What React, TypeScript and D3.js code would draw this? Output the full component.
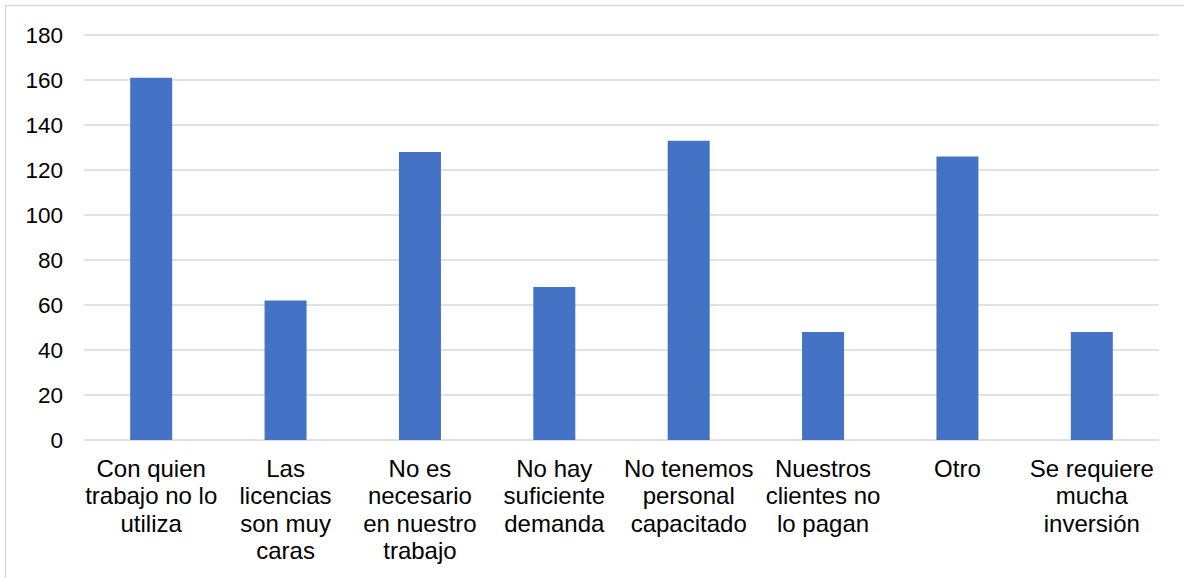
import React from "react";
import * as d3 from "d3";

const categories = [
  "Con quien trabajo no lo utiliza",
  "Las licencias son muy caras",
  "No es necesario en nuestro trabajo",
  "No hay suficiente demanda",
  "No tenemos personal capacitado",
  "Nuestros clientes no lo pagan",
  "Otro",
  "Se requiere mucha inversión",
];
const labelLines = [
  ["Con quien", "trabajo no lo", "utiliza"],
  ["Las", "licencias", "son muy", "caras"],
  ["No es", "necesario", "en nuestro", "trabajo"],
  ["No hay", "suficiente", "demanda"],
  ["No tenemos", "personal", "capacitado"],
  ["Nuestros", "clientes no", "lo pagan"],
  ["Otro"],
  ["Se requiere", "mucha", "inversión"],
];
const values = [161, 62, 128, 68, 133, 48, 126, 48];
const yTicks = [0, 20, 40, 60, 80, 100, 120, 140, 160, 180];

const W = 1184;
const H = 578;
const left = 84;
const right = 1159;
const top = 35;
const bottom = 440;
const font = "'Liberation Sans', Arial, sans-serif";

export default function App() {
  const x = d3.scaleBand<string>().domain(categories).range([left, right]);
  const y = d3.scaleLinear().domain([0, 180]).range([bottom, top]);
  const band = x.bandwidth();
  const bw = band / 3.2;

  return (
    <svg width={W} height={H} style={{ position: "absolute", left: 0, top: 0, background: "#fff" }}>
      <rect x={5.5} y={5.5} width={W + 10} height={H + 10} fill="#fff" stroke="#d9d9d9" strokeWidth={1.5} />
      {yTicks.map((t) => (
        <g key={t}>
          <line x1={left} x2={right} y1={y(t)} y2={y(t)} stroke="#d9d9d9" strokeWidth={1.5} />
          <text x={63} y={y(t)} dy="0.35em" textAnchor="end" fontFamily={font} fontSize={22.5} fill="#000">
            {t}
          </text>
        </g>
      ))}
      {categories.map((c, i) => {
        const cx = (x(c) as number) + band / 2;
        return (
          <g key={c}>
            <rect x={cx - bw / 2} y={y(values[i])} width={bw} height={bottom - y(values[i])} fill="#4472C4" />
            <text textAnchor="middle" fontFamily={font} fontSize={24} fill="#000">
              {labelLines[i].map((l, j) => (
                <tspan key={j} x={cx} y={476.5 + j * 27.6}>
                  {l}
                </tspan>
              ))}
            </text>
          </g>
        );
      })}
    </svg>
  );
}
